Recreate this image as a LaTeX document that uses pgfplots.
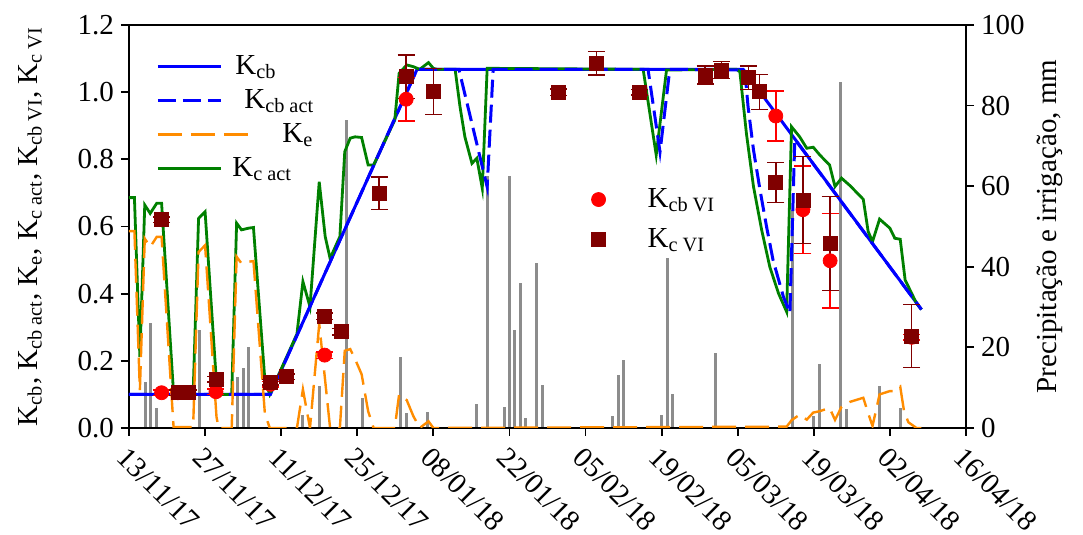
\documentclass[border=0pt]{standalone}
\usepackage{fontspec}
\setmainfont{Liberation Serif}
\usepackage{pgfplots}
\usepackage{pgfplotstable}
\pgfplotsset{compat=1.18}

\definecolor{kblue}{RGB}{0,0,255}
\definecolor{kgreen}{RGB}{0,128,0}
\definecolor{korange}{RGB}{255,140,0}
\definecolor{kred}{RGB}{255,0,0}
\definecolor{kdark}{RGB}{128,0,0}
\definecolor{rain}{RGB}{140,140,140}

\newcommand{\fs}{\fontsize{14.5}{17}\selectfont}

% day 0 = 13/11/17
\pgfplotstableread{
d   mm
3   11.5
4   26
5   5
13  24.3
20  12.7
21  14.8
22  20
32  3.2
35  10.3
40  76.5
43  7.4
50  17.5
51  3.6
55  4
64  5.9
66  62.5
69  5.1
70  62.5
71  24.2
72  36
73  2.6
75  40.9
76  10.7
89  3.1
90  13.2
91  16.9
98  3.3
99  42.2
100 8.4
108 18.5
122 54
126 2.9
127 15.9
131 85.8
132 4.6
138 10.5
142 4.9
}\raintab

\pgfplotstableread{
d     v
0     0.10
26    0.10
53    1.068
113   1.068
145.8 0.353
}\kcbtab

\pgfplotstableread{
d     v
0     0.10
26    0.10
53    1.068
60.7  1.068
65.9  0.718
67.0  1.068
95.5  1.068
97.7  0.822
99.5  1.068
113.3 1.066
113.9 0.957
114.9 0.828
116.1 0.709
117.3 0.600
118.5 0.500
120.4 0.391
121.6 0.342
122.5 0.860
145.8 0.353
}\kcbacttab

\pgfplotstableread{
d     v
0     0.686
1.0   0.686
2.0   0.212
2.9   0.664
3.9   0.639
5.1   0.669
6.0   0.669
8.2   0.103
11.8  0.103
12.8  0.624
14.0  0.644
16.1  0.133
16.5  0.100
18.9  0.100
19.8  0.610
20.7  0.590
22.0  0.595
22.9  0.597
25.0  0.143
25.9  0.100
30.9  0.280
32.0  0.436
33.3  0.361
35.0  0.733
36.1  0.570
37.0  0.505
38.8  0.570
39.7  0.823
40.7  0.863
41.6  0.867
42.8  0.865
44.0  0.783
45.0  0.783
48.9  0.917
49.7  1.056
51.1  1.081
52.3  1.076
53.5  1.068
55.1  1.088
56.0  1.071
56.6  1.068
60.0  1.068
60.9  0.957
61.8  0.867
63.1  0.788
64.0  0.803
65.0  0.714
65.9  1.071
94.6  1.068
97.0  0.813
98.9  1.066
111.8 1.068
112.4 1.060
113.6 0.877
114.9 0.719
116.4 0.590
117.9 0.480
119.5 0.401
121.0 0.346
121.9 0.897
123.4 0.867
124.7 0.833
125.9 0.836
127.1 0.813
128.9 0.783
129.9 0.719
131.1 0.744
132.7 0.721
135.1 0.681
136.0 0.585
136.8 0.555
138.1 0.622
140.0 0.595
140.9 0.565
141.9 0.562
142.8 0.441
143.4 0.421
144.9 0.371
145.8 0.353
}\kcacttab

\pgfplotstableread{
d     v
0     0.586
1.0   0.586
2.0   0.112
2.9   0.564
3.9   0.539
5.1   0.569
6.0   0.569
8.2   0.003
11.8  0.003
12.8  0.524
14.0  0.544
16.1  0.033
16.5  0.0
18.9  0.0
19.8  0.510
20.7  0.490
22.0  0.495
22.9  0.497
25.0  0.043
25.9  0.0
30.9  0.0
32.0  0.115
33.3  0.0
35.0  0.310
36.1  0.140
37.0  0.0
38.8  0.0
39.7  0.230
40.7  0.235
41.6  0.205
42.8  0.160
44.0  0.050
45.0  0.0
48.9  0.0
49.7  0.100
51.1  0.083
52.3  0.036
53.5  0.0
55.1  0.020
56.0  0.0
121.0 0.004
121.9 0.023
123.4 0.040
124.7 0.025
125.9 0.046
127.1 0.050
128.9 0.060
129.9 0.024
131.1 0.063
132.7 0.078
135.1 0.090
136.0 0.044
136.8 0.006
138.1 0.100
140.0 0.110
140.9 0.110
141.9 0.123
142.6 0.050
143.4 0.017
144.9 0.0
145.8 0.0
}\ketab

\pgfplotstableread{
d   v      e
6   0.105  0.008
9   0.105  0.008
16  0.108  0.008
26  0.130  0.008
36  0.217  0.010
51  0.979  0.065
119 0.929  0.075
124 0.650  0.130
129 0.498  0.140
144 0.270  0.008
}\kcbvitab

\pgfplotstableread{
d   v      e
6   0.620  0.008
9   0.105  0.008
11  0.105  0.008
16  0.145  0.008
26  0.136  0.008
29  0.153  0.008
36  0.333  0.010
39  0.287  0.010
46  0.699  0.048
51  1.046  0.065
56  1.002  0.069
79  1.000  0.010
86  1.086  0.035
94  1.000  0.008
106 1.051  0.027
109 1.066  0.026
114 1.043  0.035
116 1.001  0.052
119 0.731  0.060
124 0.679  0.129
129 0.550  0.140
144 0.274  0.094
}\kcvitab

\pgfplotsset{
  base/.style={
    scale only axis, width=418.5pt, height=201.5pt,
    xmin=0, xmax=154,
    tick label style={font=\fs},
    label style={font=\fs},
    /pgf/number format/assume math mode=true,
    tick align=outside,
    major tick length=4pt,
    axis line style={line width=0.9pt},
    every tick/.style={black, line width=0.9pt},
  },
  ke legend/.style={legend image code/.code={%
    \path (0pt,0pt) -- (31.5pt,0pt);
    \draw[##1,overlay] (0pt,0pt) -- (46pt,0pt);}},
}

\begin{document}
\begin{tikzpicture}
% rain axis (right), drawn first so the bars stay behind
\begin{axis}[base,
  axis x line=none,
  axis y line*=right,
  ymin=0, ymax=100,
  ytick={0,20,40,60,80,100},
  ylabel={Precipitação e irrigação, mm},
  ylabel style={at={(axis description cs:1.100,0.5)}, anchor=center},
  legend style={draw=none, fill=none, font=\fs,
    at={(axis description cs:0.545,0.615)}, anchor=north west,
    row sep=5pt},
  legend cell align=left,
]
\addplot[ycomb, rain, line width=1.5pt, forget plot] table[x=d, y=mm] {\raintab};
\addlegendimage{only marks, mark=*, mark size=3.5pt, kred}
\addlegendentry{\hspace*{19pt}K\textsubscript{cb VI}}
\addlegendimage{only marks, mark=square*, mark size=3.5pt, kdark}
\addlegendentry{\hspace*{19pt}K\textsubscript{c VI}}
\end{axis}

% coefficients (left)
\begin{axis}[base,
  ymin=0, ymax=1.2,
  ytick={0,0.2,0.4,0.6,0.8,1.0,1.2},
  yticklabel style={/pgf/number format/.cd, fixed, fixed zerofill, precision=1},
  xtick={0,14,28,42,56,70,84,98,112,126,140,154},
  xticklabels={13/11/17,27/11/17,11/12/17,25/12/17,08/01/18,22/01/18,
    05/02/18,19/02/18,05/03/18,19/03/18,02/04/18,16/04/18},
  xticklabel style={rotate=-45, anchor=north west},
  xtick pos=left, ytick pos=left,
  ylabel={K\textsubscript{cb}, K\textsubscript{cb act}, K\textsubscript{e}, K\textsubscript{c act}, K\textsubscript{cb VI}, K\textsubscript{c VI}},
  ylabel style={at={(axis description cs:-0.118,0.5)}, anchor=center},
  legend image code/.code={\draw[#1] (0pt,0pt) -- (31.5pt,0pt);},
  legend style={draw=none, fill=none, font=\fs,
    at={(axis description cs:0.025,0.945)}, anchor=north west,
    row sep=2pt},
  legend cell align=left,
]
\addlegendimage{kblue, line width=1.5pt}
\addlegendentry{\hspace*{4.5pt}K\textsubscript{cb}}
\addlegendimage{kblue, line width=1.5pt, dash pattern=on 9pt off 3.5pt}
\addlegendentry{\hspace*{9pt}K\textsubscript{cb act}}
\addlegendimage{korange, line width=1.2pt, dash pattern=on 12pt off 4.5pt, ke legend}
\addlegendentry{\hspace*{28pt}K\textsubscript{e}}
\addlegendimage{kgreen, line width=1.4pt}
\addlegendentry{\hspace*{3pt}K\textsubscript{c act}}

\addplot[kblue, line width=1.5pt, forget plot] table[x=d, y=v] {\kcbtab};
\addplot[kgreen, line width=1.4pt, forget plot] table[x=d, y=v] {\kcacttab};
\addplot[kblue, line width=1.5pt, dash pattern=on 9pt off 3.5pt, forget plot] table[x=d, y=v] {\kcbacttab};
\addplot[korange, line width=1.2pt, dash pattern=on 12pt off 4.5pt, forget plot] table[x=d, y=v] {\ketab};

\addplot[only marks, mark=*, mark size=3.5pt, kred, forget plot,
  error bars/.cd, y dir=both, y explicit,
  error bar style={kred, line width=0.75pt},
  error mark options={kred, rotate=90, mark size=4.25pt, line width=0.75pt}]
  table[x=d, y=v, y error=e] {\kcbvitab};
\addplot[only marks, mark=square*, mark size=3.5pt, kdark, forget plot,
  error bars/.cd, y dir=both, y explicit,
  error bar style={kdark, line width=0.75pt},
  error mark options={kdark, rotate=90, mark size=4.25pt, line width=0.75pt}]
  table[x=d, y=v, y error=e] {\kcvitab};
\end{axis}
\pgfresetboundingbox
\useasboundingbox (-64.5pt,-53.5pt) rectangle (477pt,214pt);
\end{tikzpicture}
\end{document}
